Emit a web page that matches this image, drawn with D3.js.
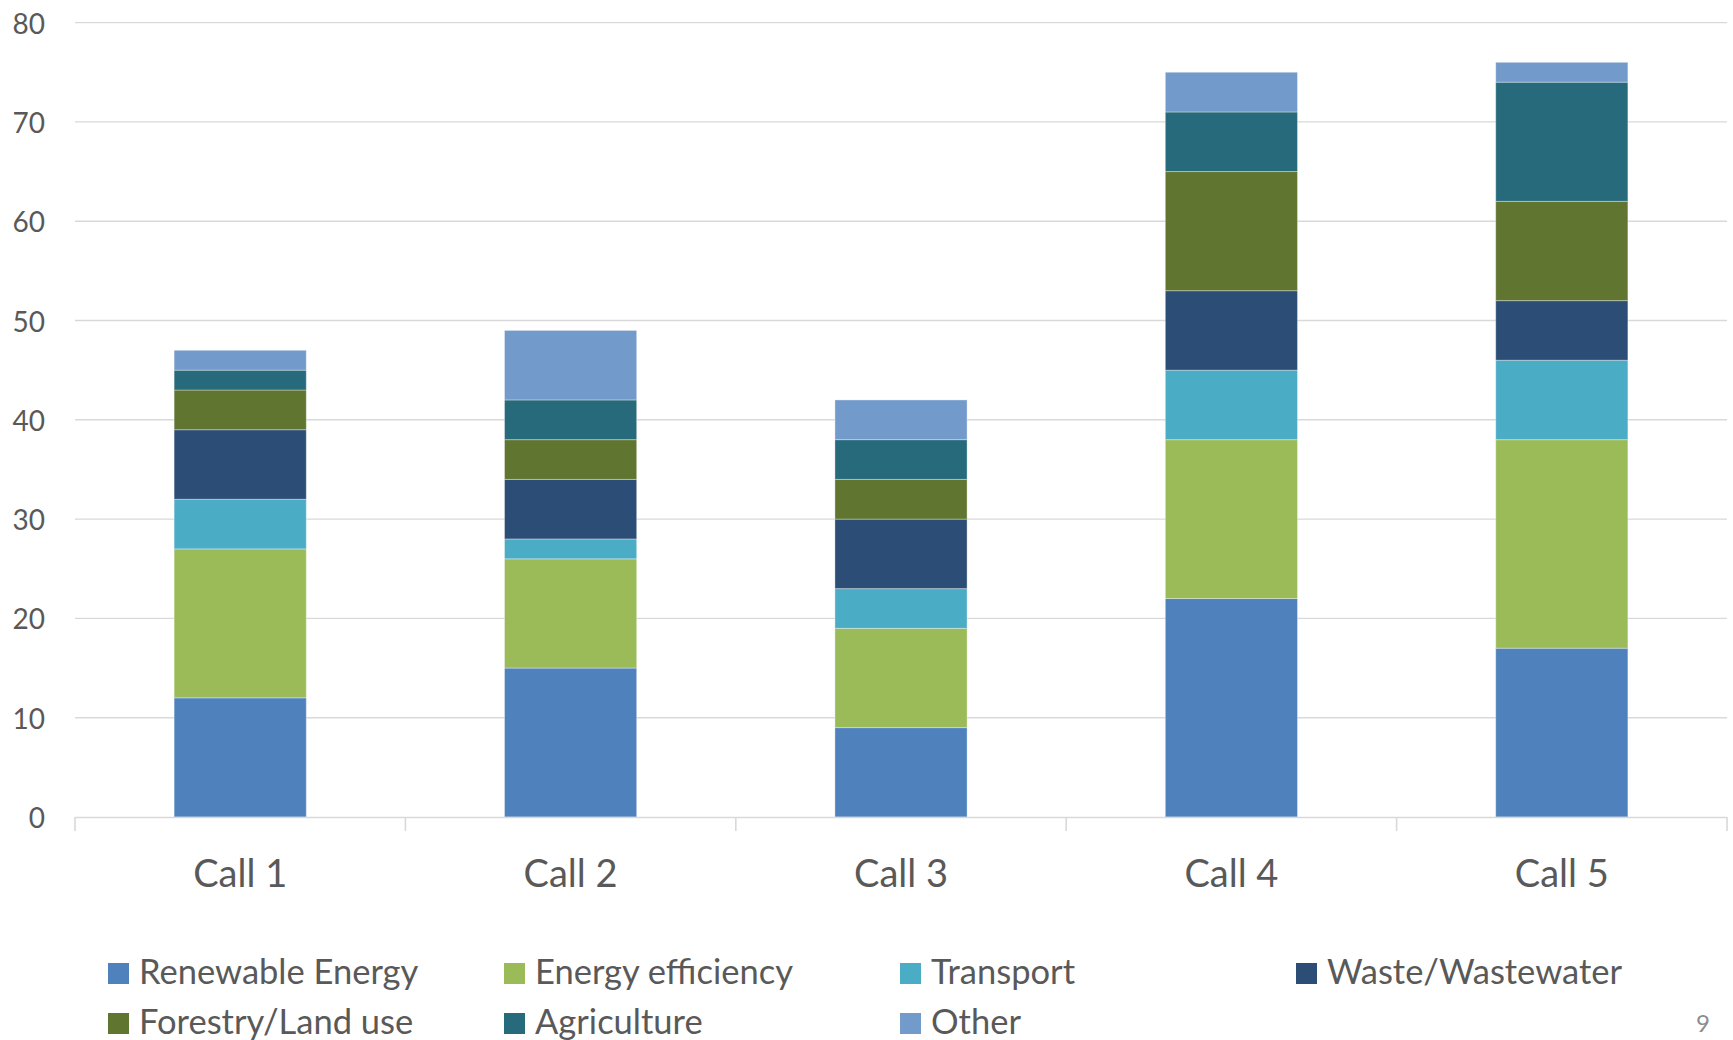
<!DOCTYPE html>
<html>
<head>
<meta charset="utf-8">
<script src="https://cdn.jsdelivr.net/npm/d3@7/dist/d3.min.js"></script>
<style>
  html, body { margin: 0; padding: 0; background: #ffffff; }
  svg { display: block; }
  text { font-family: "Lato", "Open Sans", sans-serif; fill: #595959; }
</style>
</head>
<body>
<svg id="chart" width="1733" height="1040"></svg>
<script>
const categories = ["Call 1", "Call 2", "Call 3", "Call 4", "Call 5"];
const seriesNames = ["Renewable Energy", "Energy efficiency", "Transport", "Waste/Wastewater", "Forestry/Land use", "Agriculture", "Other"];
const renewableEnergy = [12, 15, 9, 22, 17];
const energyEfficiency = [15, 11, 10, 16, 21];
const transport = [5, 2, 4, 7, 8];
const wasteWastewater = [7, 6, 7, 8, 6];
const forestryLandUse = [4, 4, 4, 12, 10];
const agriculture = [2, 4, 4, 6, 12];
const other = [2, 7, 4, 4, 2];
const yTicks = [0, 10, 20, 30, 40, 50, 60, 70, 80];
const colors = ["#4F81BD", "#9BBB59", "#4BACC6", "#2C4D75", "#5F7530", "#276A7C", "#729ACA"];

const seriesValues = [renewableEnergy, energyEfficiency, transport, wasteWastewater, forestryLandUse, agriculture, other];
const rows = categories.map((c, i) => {
  const r = { category: c };
  seriesNames.forEach((s, j) => { r[s] = seriesValues[j][i]; });
  return r;
});

const svg = d3.select("#chart");
const plotLeft = 75, plotRight = 1727, plotTop = 22.6, plotBottom = 817;

const x = d3.scaleBand().domain(categories).range([plotLeft, plotRight]).paddingInner(0.6).paddingOuter(0.3);
const y = d3.scaleLinear().domain([0, 80]).range([plotBottom, plotTop]);

// gridlines
svg.append("g").selectAll("line").data(yTicks.filter(t => t > 0)).join("line")
  .attr("x1", plotLeft).attr("x2", plotRight)
  .attr("y1", d => y(d)).attr("y2", d => y(d))
  .attr("stroke", "#D9D9D9").attr("stroke-width", 1.4);

// y tick labels
svg.append("g").selectAll("text").data(yTicks).join("text")
  .attr("x", 45).attr("y", d => y(d))
  .attr("text-anchor", "end").attr("dominant-baseline", "central")
  .style("font-size", "28px")
  .text(d => d);

// stacked bars
const stack = d3.stack().keys(seriesNames)(rows);
svg.append("g").selectAll("g").data(stack).join("g")
  .attr("fill", (d, i) => colors[i])
  .selectAll("rect").data(d => d).join("rect")
  .attr("x", d => x(d.data.category))
  .attr("width", x.bandwidth())
  .attr("y", d => y(d[1]))
  .attr("height", d => y(d[0]) - y(d[1]))
  .attr("stroke", "rgba(255,255,255,0.35)").attr("stroke-width", 1);

// x axis line
svg.append("line").attr("x1", plotLeft).attr("x2", plotRight)
  .attr("y1", y(0) + 0.5).attr("y2", y(0) + 0.5)
  .attr("stroke", "#D9D9D9").attr("stroke-width", 1.6);

// x axis tick marks at category boundaries
const firstEdge = x(categories[0]) - x.step() * x.paddingOuter();
svg.append("g").selectAll("line").data(d3.range(categories.length + 1)).join("line")
  .attr("x1", i => firstEdge + i * x.step())
  .attr("x2", i => firstEdge + i * x.step())
  .attr("y1", y(0)).attr("y2", y(0) + 14)
  .attr("stroke", "#D9D9D9").attr("stroke-width", 1.6);

// x labels
svg.append("g").selectAll("text").data(categories).join("text")
  .attr("x", d => x(d) + x.bandwidth() / 2).attr("y", 887)
  .attr("text-anchor", "middle")
  .style("font-size", "38px")
  .text(d => d);

// legend
const legend = svg.append("g").selectAll("g").data(seriesNames).join("g")
  .attr("transform", (d, i) => `translate(${108 + (i % 4) * 396},${963 + Math.floor(i / 4) * 50})`);
legend.append("rect").attr("width", 21).attr("height", 21).attr("fill", (d, i) => colors[i]);
legend.append("text").attr("x", 31).attr("y", 20.5)
  .style("font-size", "34.5px")
  .text(d => d);

// page number
svg.append("text").attr("x", 1696).attr("y", 1032)
  .style("font-size", "24px").style("fill", "#8C8C8C")
  .text("9");
</script>
</body>
</html>
